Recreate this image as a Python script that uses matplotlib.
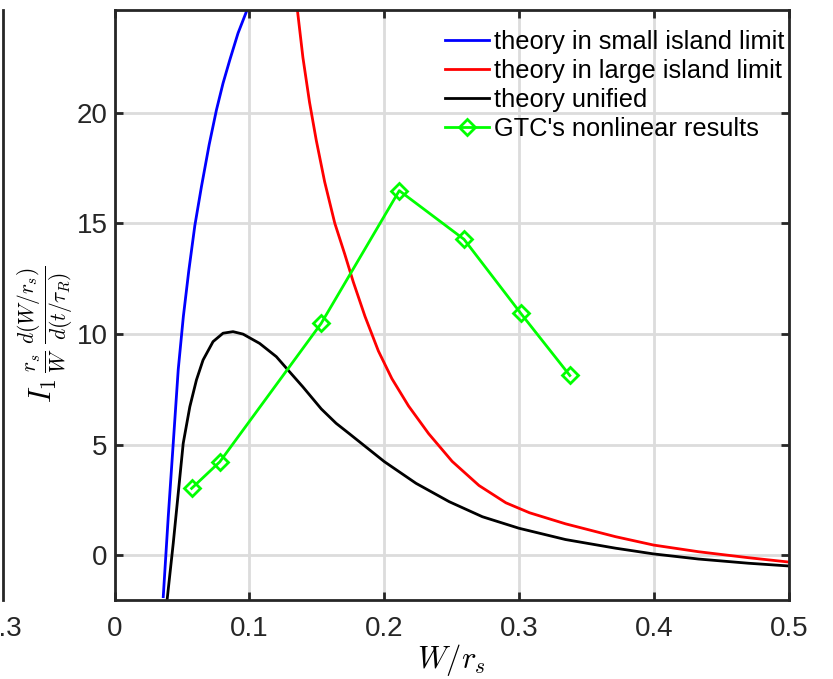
import numpy as np
import matplotlib.pyplot as plt

plt.rcParams['font.family'] = ['Liberation Sans', 'DejaVu Sans']
plt.rcParams['mathtext.fontset'] = 'cm'

# theory, small island limit
w_small = [0.0361, 0.0398, 0.0435, 0.0472, 0.0510, 0.0550, 0.0595, 0.0644,
           0.0701, 0.0755, 0.0804, 0.0854, 0.0915, 0.0982]
g_small = [-1.86, 1.75, 5.07, 8.4, 10.8, 12.85, 14.9, 16.66,
           18.55, 20.12, 21.33, 22.38, 23.59, 24.64]

# theory, large island limit
w_large = [0.1355, 0.1396, 0.1445, 0.1495, 0.1557, 0.1632, 0.1706, 0.1769,
           0.1856, 0.1955, 0.2055, 0.2179, 0.2328, 0.2502, 0.2701, 0.2900,
           0.3075, 0.3342, 0.3712, 0.3995, 0.4327, 0.4697, 0.4987]
g_large = [24.64, 22.49, 20.47, 18.75, 16.88, 15.01, 13.61, 12.36,
           10.80, 9.24, 7.99, 6.75, 5.50, 4.25, 3.16, 2.38,
           1.93, 1.43, 0.85, 0.47, 0.17, -0.10, -0.29]

# unified theory
w_uni = [0.039, 0.0435, 0.0472, 0.0509, 0.0558, 0.0607, 0.0656, 0.073,
         0.0804, 0.0878, 0.0952, 0.1075, 0.1199, 0.1285, 0.1395, 0.1532,
         0.1642, 0.174, 0.1999, 0.2234, 0.248, 0.2726, 0.2997, 0.3342,
         0.3712, 0.3995, 0.4327, 0.4697, 0.4987]
g_uni = [-1.98, 0.55, 2.81, 5.07, 6.72, 7.93, 8.83, 9.66,
         10.04, 10.11, 10.0, 9.58, 8.98, 8.38, 7.62, 6.62,
         5.97, 5.50, 4.24, 3.26, 2.43, 1.75, 1.23, 0.72,
         0.33, 0.07, -0.16, -0.35, -0.47]

# GTC simulation points
w_gtc = [0.0571, 0.078, 0.1531, 0.211, 0.259, 0.301, 0.3374]
g_gtc = [3.03, 4.23, 10.48, 16.48, 14.28, 10.94, 8.13]

fig = plt.figure(figsize=(8.33, 6.79), dpi=100)
ax = fig.add_axes([0.1375, 0.1167, 0.81, 0.8686])

ax.plot(w_small, g_small, color='#0000ff', lw=2, label='theory in small island limit')
ax.plot(w_large, g_large, color='#ff0000', lw=2, label='theory in large island limit')
ax.plot(w_uni, g_uni, color='black', lw=2, label='theory unified')
ax.plot(w_gtc, g_gtc, color='#00ff00', lw=2, marker='D', markersize=8,
        markerfacecolor='none', markeredgewidth=2, label="GTC's nonlinear results")

ax.set_xlim(0, 0.5)
ax.set_ylim(-2, 24.64)
ax.set_xticks([0, 0.1, 0.2, 0.3, 0.4, 0.5])
ax.set_xticklabels(['0', '0.1', '0.2', '0.3', '0.4', '0.5'])
ax.set_yticks([0, 5, 10, 15, 20])
ax.grid(True, color='#dcdcdc', lw=2)
ax.set_axisbelow(True)
ax.tick_params(direction='in', length=6, width=2, labelsize=20, colors='#262626',
               top=True, right=True)
ax.tick_params(axis='x', pad=12)
ax.tick_params(axis='y', pad=5)
for s in ax.spines.values():
    s.set_color('#262626')
    s.set_linewidth(2)

ax.set_xlabel(r'$W/r_s$', fontsize=22, labelpad=0)
ax.set_ylabel(r'$I_1\,\frac{r_s}{W}\,\frac{d(W/r_s)}{d(t/\tau_R)}$', fontsize=22)
ax.yaxis.set_label_coords(-0.058, 0.45)

ax.legend(loc='upper right', bbox_to_anchor=(1.0, 0.975), frameon=False,
          fontsize=18.3, handlelength=1.7, handletextpad=0.2, labelspacing=0.2,
          borderaxespad=0, borderpad=0.2)

# edge of the neighbouring panel on the left
ax0 = fig.add_axes([-0.3, 0.1167, 0.3 + 3 / 833, 0.8686])
ax0.set_xlim(0, 0.3)
ax0.set_ylim(0, 1)
ax0.set_xticks([0.3])
ax0.set_xticklabels(['0.3'])
ax0.set_yticks([])
ax0.tick_params(axis='x', length=0, labelsize=20, colors='#262626', pad=12)
for k, s in ax0.spines.items():
    s.set_visible(k == 'right')
ax0.spines['right'].set_color('#262626')
ax0.spines['right'].set_linewidth(2)

fig.savefig('out.png', dpi=100)
